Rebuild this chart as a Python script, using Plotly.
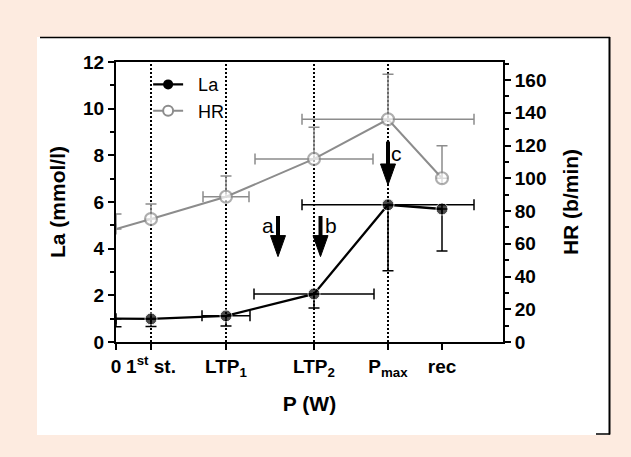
import plotly.graph_objects as go

# ---------------- data ----------------
stage_labels = ["0", "1<sup>st</sup> st.", "LTP<sub>1</sub>", "LTP<sub>2</sub>", "P<sub>max</sub>", "rec"]
stage_x = [0, 35, 110, 198, 272, 326]
la_mean = [1.00, 0.99, 1.12, 2.06, 5.88, 5.70]
la_sd_minus = [0.35, 0.33, 0.43, 0.60, 2.83, 1.80]
la_power_sd = [0, 0, 24, 60, 86, 0]
hr_mean = [69.0, 75.1, 88.7, 111.8, 136.0, 100.0]
hr_sd_plus = [9.2, 9.2, 12.7, 19.3, 27.5, 19.9]
hr_power_sd = [0, 0, 23, 59, 86, 0]
marker_sizes = [0, 12, 12, 12, 12, 12]
dotted_stages = [1, 2, 3, 4]
arrow_labels = ["a", "b", "c"]
arrow_x = [162, 204.5, 272]
arrow_tip = [3.66, 3.66, 6.73]
arrow_tail = [5.4, 5.4, 8.59]
arrow_label_x = [152, 215, 280]
arrow_label_y = [5.01, 5.01, 8.06]
la_ticks = [0, 2, 4, 6, 8, 10, 12]
hr_ticks = [0, 20, 40, 60, 80, 100, 120, 140, 160]

# ---------------- layout geometry ----------------
W, H = 631, 457
ML, MR, MT, MB = 116, 128, 62, 115
PW = W - ML - MR
PH = H - MT - MB
LA_MAX = 12
PX_PER_LA = PH / LA_MAX


def px(xp):
    return (xp - ML) / PW


def py(yp):
    return (H - MB - yp) / PH


def bold(s):
    return f"<b>{s}</b>"


FONT = "Liberation Sans, Arial, sans-serif"
BLACK = "#000000"
GREY = "#8c8c8c"
PEACH = "#fdebe0"

fig = go.Figure()

# La trace
fig.add_trace(go.Scatter(
    x=stage_x, y=la_mean, mode="lines+markers", showlegend=False,
    line=dict(color=BLACK, width=2.3),
    marker=dict(color=BLACK, size=marker_sizes, symbol="circle"),
    error_y=dict(type="data", symmetric=False, array=[0] * len(la_mean),
                 arrayminus=la_sd_minus, color=BLACK, thickness=1.5, width=5.5),
    error_x=dict(type="data", array=la_power_sd, color=BLACK, thickness=1.5, width=5.5),
    yaxis="y",
))

# HR trace
fig.add_trace(go.Scatter(
    x=stage_x, y=hr_mean, mode="lines+markers", showlegend=False,
    line=dict(color=GREY, width=2),
    marker=dict(color="white", size=marker_sizes, symbol="circle",
                line=dict(color=GREY, width=2.2)),
    error_y=dict(type="data", symmetric=False, array=hr_sd_plus,
                 arrayminus=[0] * len(hr_mean), color=GREY, thickness=1.5, width=5.5),
    error_x=dict(type="data", array=hr_power_sd, color=GREY, thickness=1.5, width=5.5),
    yaxis="y2",
))

# legend proxies
fig.add_trace(go.Scatter(x=[None], y=[None], mode="lines+markers", name="\u00a0\u00a0La",
                         line=dict(color=BLACK, width=2.3),
                         marker=dict(color=BLACK, size=10)))
fig.add_trace(go.Scatter(x=[None], y=[None], mode="lines+markers", name="\u00a0\u00a0HR",
                         line=dict(color=GREY, width=2),
                         marker=dict(color="white", size=10, line=dict(color=GREY, width=2))))

shapes = []
# white panel
shapes.append(dict(type="rect", xref="paper", yref="paper", x0=px(37), x1=px(610),
                   y0=py(435), y1=py(37), fillcolor="white", line=dict(width=0), layer="below"))
# frame lines
shapes.append(dict(type="line", xref="paper", yref="paper", x0=px(40), x1=px(610),
                   y0=py(37.5), y1=py(37.5), line=dict(color=BLACK, width=1.5)))
shapes.append(dict(type="line", xref="paper", yref="paper", x0=px(609.5), x1=px(609.5),
                   y0=py(37), y1=py(434.5), line=dict(color=BLACK, width=2)))
shapes.append(dict(type="line", xref="paper", yref="paper", x0=px(596), x1=px(610),
                   y0=py(434), y1=py(434), line=dict(color=BLACK, width=1.5)))
# dotted stage lines
for i in dotted_stages:
    shapes.append(dict(type="line", xref="x", yref="paper", x0=stage_x[i], x1=stage_x[i],
                       y0=0, y1=1, line=dict(color=BLACK, width=2, dash="2px,2px"),
                       layer="below"))

# arrows (shaft + head), x axis units are 1 px each
HEAD_LEN = 21 / PX_PER_LA
HEAD_HALF = 7.5
for xa, yt, yb in zip(arrow_x, arrow_tip, arrow_tail):
    shapes.append(dict(type="line", xref="x", yref="y", x0=xa, x1=xa, y0=yb,
                       y1=yt + HEAD_LEN * 0.6, line=dict(color=BLACK, width=4)))
    shapes.append(dict(type="path", xref="x", yref="y",
                       path=f"M {xa - HEAD_HALF},{yt + HEAD_LEN} L {xa + HEAD_HALF},{yt + HEAD_LEN} "
                            f"L {xa},{yt} Z",
                       fillcolor=BLACK, line=dict(color=BLACK, width=1)))

annotations = []
for lab, lx, ly in zip(arrow_labels, arrow_label_x, arrow_label_y):
    annotations.append(dict(x=lx, y=ly, xref="x", yref="y", text=lab, showarrow=False,
                            font=dict(family=FONT, size=21, color=BLACK)))

tickfont = dict(family=FONT, size=19, color=BLACK)
titlefont = dict(family=FONT, size=21, color=BLACK)

fig.update_layout(
    width=W, height=H,
    margin=dict(l=ML, r=MR, t=MT, b=MB, pad=0, autoexpand=False),
    paper_bgcolor=PEACH, plot_bgcolor="white",
    shapes=shapes, annotations=annotations,
    showlegend=True,
    legend=dict(x=0.083, y=0.985, xanchor="left", yanchor="top",
                bgcolor="rgba(0,0,0,0)", font=dict(family=FONT, size=18, color=BLACK),
                tracegroupgap=0, itemwidth=30),
    xaxis=dict(range=[0, PW], showline=True, linecolor=BLACK, linewidth=2, mirror=True,
               ticks="outside", ticklen=6, tickwidth=2, tickcolor=BLACK,
               tickvals=stage_x, ticktext=[bold(s) for s in stage_labels], tickfont=tickfont,
               showgrid=False, zeroline=False, automargin=False,
               title=dict(text=bold("P (W)"), font=titlefont, standoff=18)),
    yaxis=dict(range=[0, LA_MAX], showline=True, linecolor=BLACK, linewidth=2,
               ticks="outside", ticklen=6, tickwidth=2, tickcolor=BLACK,
               tickvals=la_ticks, ticktext=[bold(v) for v in la_ticks], tickfont=tickfont,
               minor=dict(ticks="outside", ticklen=4, tickwidth=1.5, tickcolor=BLACK,
                          dtick=1, tick0=0, showgrid=False),
               showgrid=False, zeroline=False, automargin=False,
               title=dict(text=bold("La (mmol/l)"), font=titlefont, standoff=12)),
    yaxis2=dict(range=[0, 171], overlaying="y", side="right", showline=True,
                linecolor=BLACK, linewidth=2,
                ticks="outside", ticklen=6, tickwidth=2, tickcolor=BLACK,
                tickvals=hr_ticks, ticktext=[bold(v) for v in hr_ticks], tickfont=tickfont,
                minor=dict(ticks="outside", ticklen=4, tickwidth=1.5, tickcolor=BLACK,
                           dtick=10, tick0=0, showgrid=False),
                showgrid=False, zeroline=False, automargin=False,
                title=dict(text=bold("HR (b/min)"), font=titlefont, standoff=18)),
)

fig.write_html("out.html", config={"displayModeBar": False},
               post_script="document.body.style.margin='0px';")
